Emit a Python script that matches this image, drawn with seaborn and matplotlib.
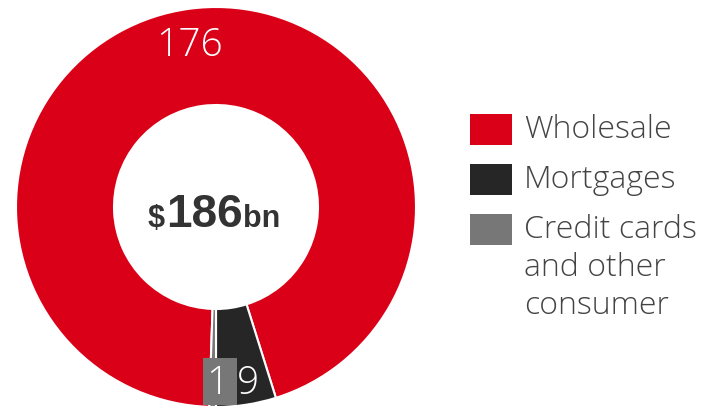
import matplotlib
matplotlib.use("Agg")
import matplotlib.pyplot as plt
from matplotlib.patches import Rectangle
import seaborn as sns

categories = ["Wholesale", "Mortgages", "Credit cards\nand other\nconsumer"]
values = [176, 9, 1]
colors = ["#DA0018", "#262626", "#777777"]
total_label = "186"

sns.set_theme(style="white")
plt.rcParams["font.family"] = ["Open Sans", "DejaVu Sans"]

W, H = 703, 410
fig = plt.figure(figsize=(W / 100, H / 100), dpi=100)

# donut axes: centre ~ (216, 208) px, radius ~ 200 px
cx, cy, r = 216, 208, 200
ax = fig.add_axes([(cx - r) / W, (H - cy - r) / H, 2 * r / W, 2 * r / H])
start = -90 - 360 * values[-1] / sum(values)
wedges, _ = ax.pie(values, colors=colors, startangle=start, counterclock=False,
                   radius=1, wedgeprops=dict(width=0.49, edgecolor="white", linewidth=1.5))
ax.set_xlim(-1, 1)
ax.set_ylim(-1, 1)
ax.set_aspect("equal")
ax.axis("off")

# value labels
lab = dict(ha="center", va="center", color="white", fontsize=28, fontweight="light")
ax.text(-0.13, 0.81, str(values[0]), **lab)
ax.add_patch(Rectangle((-0.065, -0.99), 0.17, 0.235, facecolor="#777777",
                       edgecolor="none", zorder=3))
ax.text(0.005, -0.88, str(values[2]), zorder=4, **lab)
ax.text(0.16, -0.88, str(values[1]), zorder=4, **lab)

# centre total, all on one baseline
ctr = dict(color="#333333", fontweight="bold", family=["Liberation Sans", "DejaVu Sans"],
           va="baseline")
base = -0.095
t = ax.text(-0.0575, base, total_label, ha="center", fontsize=33, **ctr)
fig.canvas.draw()
bb = t.get_window_extent().transformed(ax.transData.inverted())
ax.text(bb.x0 - 0.008, base, "$", ha="right", fontsize=22, **ctr)
ax.text(bb.x1 + 0.002, base, "bn", ha="left", fontsize=22, **ctr)

# legend
rows_y = [130, 180, 230]
for col, y in zip(colors, rows_y):
    fig.add_artist(Rectangle((470 / W, (H - y - 15.5) / H), 42 / W, 31 / H,
                             transform=fig.transFigure, facecolor=col, edgecolor="none"))

for cat, y in zip(categories, rows_y):
    for i, line in enumerate(cat.split("\n")):
        fig.text(524 / W, (H - y - i * 38) / H, line, ha="left", va="center",
                 color="#444444", fontsize=23, fontweight="light")

fig.savefig("out.png", dpi=100)
